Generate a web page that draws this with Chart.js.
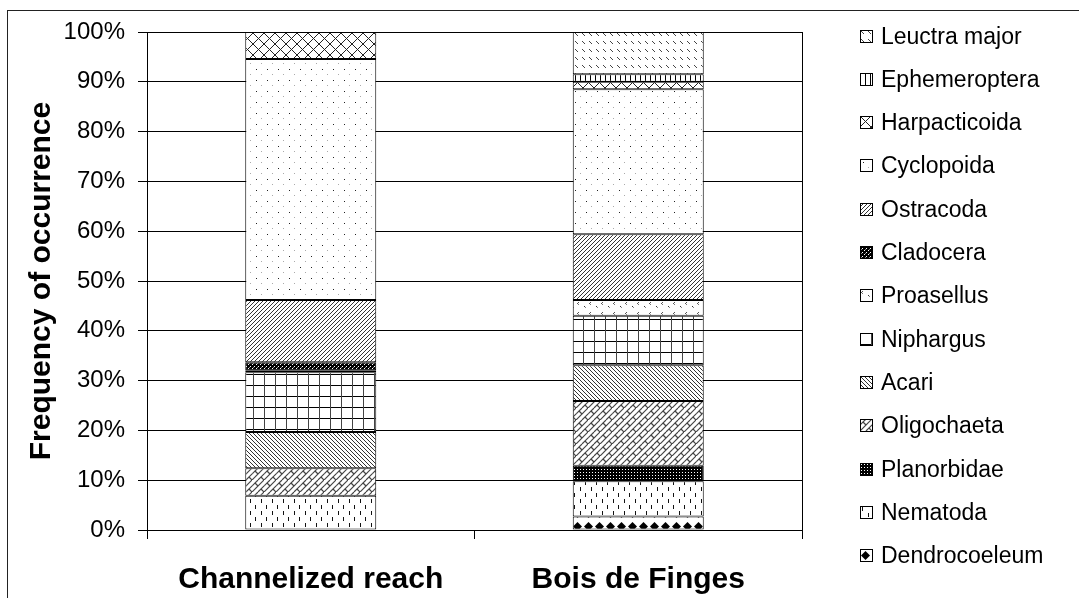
<!DOCTYPE html>
<html>
<head>
<meta charset="utf-8">
<script src="https://cdn.jsdelivr.net/npm/chart.js@4"></script>
<style>
body { margin: 0; background: #fff; font-family: "Liberation Sans", Arial, sans-serif; }
#wrap { position: relative; width: 1079px; height: 598px; overflow: hidden; }
#frame { position: absolute; left: 7px; top: 10px; width: 1100px; height: 620px; border-left: 1px solid #222; border-top: 1px solid #222; }
#chart { position: absolute; left: 0; top: 0; }
.item { position: absolute; left: 860px; height: 22px; display: flex; align-items: center; font-size: 23px; white-space: nowrap; color: #000; }
.item canvas { margin-right: 8px; }
</style>
</head>
<body>
<div id="wrap">
  <div id="frame"></div>
  <canvas id="chart" width="1079" height="598"></canvas>
  <div id="legend"></div>
</div>
<script>
// DATA (stack order, bottom to top)
const categories = ['Channelized reach', 'Bois de Finges'];
const taxa = ['Dendrocoeleum', 'Nematoda', 'Planorbidae', 'Oligochaeta', 'Acari', 'Niphargus',
    'Proasellus', 'Cladocera', 'Ostracoda', 'Cyclopoida', 'Harpacticoida', 'Ephemeroptera', 'Leuctra major'];
const dendrocoeleum = [0, 2.7];
const nematoda = [6.9, 7.1];
const planorbidae = [0, 3.1];
const oligochaeta = [5.5, 13.0];
const acari = [7.3, 7.2];
const niphargus = [12.0, 9.9];
const proasellus = [0.4, 3.2];
const cladocera = [1.6, 0];
const ostracoda = [12.5, 13.2];
const cyclopoida = [48.4, 29.1];
const harpacticoida = [5.4, 1.5];
const ephemeroptera = [0, 1.5];
const leuctra = [0, 8.5];
const series = [dendrocoeleum, nematoda, planorbidae, oligochaeta, acari, niphargus,
    proasellus, cladocera, ostracoda, cyclopoida, harpacticoida, ephemeroptera, leuctra];
const yTicks = [0, 10, 20, 30, 40, 50, 60, 70, 80, 90, 100];

// PATTERNS
function tile(w, h, draw) {
    const c = document.createElement('canvas');
    c.width = w; c.height = h;
    const x = c.getContext('2d');
    x.fillStyle = '#fff';
    x.fillRect(0, 0, w, h);
    draw(x, w, h);
    return c;
}
function px(x, i, j, col) { x.fillStyle = col || '#000'; x.fillRect(i, j, 1, 1); }

const tiles = [
    // Dendrocoeleum: black diamonds
    tile(11, 13, x => {
        x.fillStyle = '#000';
        x.beginPath(); x.moveTo(5.5, 2); x.lineTo(10, 6.5); x.lineTo(5.5, 11); x.lineTo(1, 6.5); x.closePath(); x.fill();
    }),
    // Nematoda: short vertical dashes
    tile(11, 12, x => { x.fillStyle = '#111'; x.fillRect(2, 1, 1, 4); x.fillRect(8, 7, 1, 4); }),
    // Planorbidae: black with white dots
    tile(3, 3, x => { x.fillStyle = '#000'; x.fillRect(0, 0, 3, 3); px(x, 1, 1, '#fff'); }),
    // Oligochaeta: weave
    tile(12, 12, x => {
        x.strokeStyle = '#444'; x.lineWidth = 1.2;
        x.beginPath(); x.moveTo(0, 12); x.lineTo(12, 0); x.stroke();
        x.beginPath(); x.moveTo(-6, 12); x.lineTo(6, 0); x.stroke();
        x.beginPath(); x.moveTo(6, 12); x.lineTo(18, 0); x.stroke();
        x.beginPath(); x.moveTo(3, 3); x.lineTo(6, 6); x.stroke();
        x.beginPath(); x.moveTo(9, 9); x.lineTo(12, 12); x.stroke();
    }),
    // Acari: dense backward diagonals
    tile(4, 4, x => { for (let i = 0; i < 4; i++) px(x, i, i, '#333'); }),
    // Niphargus: grid
    tile(11, 11, x => { x.fillStyle = '#000'; x.fillRect(0, 0, 11, 1); x.fillStyle = '#444'; x.fillRect(0, 0, 1, 11); }),
    // Proasellus: sparse marks
    tile(12, 10, x => { px(x, 2, 2, '#555'); px(x, 1, 3, '#555'); px(x, 2, 4, '#777'); px(x, 8, 6, '#333'); px(x, 9, 7, '#888'); }),
    // Cladocera: dark checker
    tile(4, 4, x => { x.fillStyle = '#000'; x.fillRect(0, 0, 4, 4); px(x, 0, 0, '#fff'); px(x, 2, 2, '#fff'); px(x, 1, 3, '#888'); }),
    // Ostracoda: dense forward diagonals
    tile(4, 4, x => { for (let i = 0; i < 4; i++) px(x, 3 - i, i, '#333'); }),
    // Cyclopoida: sparse dots
    tile(11, 11, x => { px(x, 3, 3, '#222'); px(x, 8, 8, '#aaa'); }),
    // Harpacticoida: diagonal crosshatch
    tile(11, 11, x => { for (let i = 0; i < 11; i++) { px(x, i, i, '#222'); px(x, 10 - i, i, '#222'); } }),
    // Ephemeroptera: vertical lines
    tile(5, 5, x => { x.fillStyle = '#000'; x.fillRect(0, 0, 1, 5); }),
    // Leuctra major: short diagonal dashes
    tile(7, 8, x => { px(x, 1, 1, '#444'); px(x, 2, 2, '#444'); px(x, 3, 3, '#444'); })
];

const ctx = document.getElementById('chart').getContext('2d');
const patterns = tiles.map(t => ctx.createPattern(t, 'repeat'));

Chart.defaults.font.family = '"Liberation Sans", Arial, sans-serif';
Chart.defaults.color = '#000';

const frame = {
    id: 'frame',
    afterDatasetsDraw(chart) {
        const a = chart.chartArea;
        const c = chart.ctx;
        c.save();
        c.strokeStyle = '#000';
        c.lineWidth = 1;
        c.strokeRect(Math.round(a.left) + 0.5, Math.round(a.top) + 0.5, Math.round(a.right - a.left), Math.round(a.bottom - a.top));
        c.restore();
    }
};

new Chart(ctx, {
    type: 'bar',
    data: {
        labels: categories,
        datasets: taxa.map((name, i) => ({
            label: name,
            data: series[i],
            backgroundColor: patterns[i],
            borderColor: '#000',
            borderWidth: 1,
            borderSkipped: false,
            barPercentage: 0.4,
            categoryPercentage: 1
        }))
    },
    options: {
        responsive: false,
        animation: false,
        layout: { padding: { left: 24, top: 32, right: 277, bottom: 0 } },
        plugins: { legend: { display: false }, tooltip: { enabled: false } },
        scales: {
            x: {
                stacked: true,
                grid: { offset: true, drawOnChartArea: false, color: '#000', tickLength: 9 },
                border: { color: '#000' },
                ticks: { font: { size: 30, weight: 'bold' }, color: '#000', padding: 23, maxRotation: 0 },
                afterFit(s) { s.height = 68; }
            },
            y: {
                stacked: true,
                min: 0,
                max: 100,
                afterBuildTicks(s) { s.ticks = yTicks.map(v => ({ value: v })); },
                ticks: { callback: v => v + '%', font: { size: 24 }, color: '#000', padding: 13 },
                grid: { color: '#000', tickLength: 9 },
                border: { color: '#000' },
                title: { display: true, text: 'Frequency of occurrence', font: { size: 30, weight: 'bold' }, padding: 0, color: '#000' },
                afterFit(s) { s.width = 123; }
            }
        }
    },
    plugins: [frame]
});

// LEGEND (top of stack first)
const legend = document.getElementById('legend');
for (let k = taxa.length - 1, row = 0; k >= 0; k--, row++) {
    const item = document.createElement('div');
    item.className = 'item';
    item.style.top = (36 + row * 43.3 - 11) + 'px';
    const sw = document.createElement('canvas');
    sw.width = 13; sw.height = 13;
    const sc = sw.getContext('2d');
    sc.fillStyle = sc.createPattern(tiles[k], 'repeat');
    sc.fillRect(0, 0, 13, 13);
    sc.strokeStyle = '#000';
    sc.strokeRect(0.5, 0.5, 12, 12);
    item.appendChild(sw);
    item.appendChild(document.createTextNode(taxa[k]));
    legend.appendChild(item);
}
</script>
</body>
</html>
